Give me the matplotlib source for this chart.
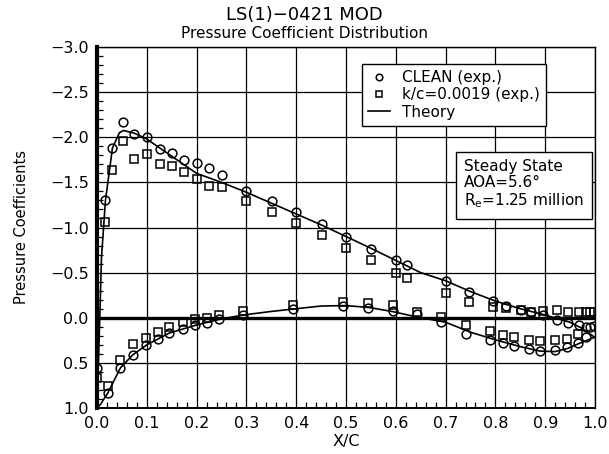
import matplotlib
matplotlib.use('Agg')
import matplotlib.pyplot as plt
from matplotlib.ticker import MultipleLocator, FuncFormatter

# CLEAN (exp.) - upper / lower surface
clean_up_x = [0.017, 0.031, 0.052, 0.075, 0.10, 0.127, 0.151, 0.175, 0.20, 0.225, 0.25, 0.30,
              0.352, 0.40, 0.452, 0.50, 0.55, 0.60, 0.622, 0.70, 0.747, 0.795, 0.822, 0.852,
              0.872, 0.895, 0.923, 0.946, 0.968, 0.982, 0.99, 0.997]
clean_up_cp = [-1.30, -1.88, -2.17, -2.04, -2.00, -1.875, -1.82, -1.75, -1.71, -1.66, -1.585, -1.40,
               -1.294, -1.17, -1.04, -0.89, -0.76, -0.645, -0.59, -0.41, -0.286, -0.19, -0.13, -0.086,
               -0.068, -0.03, 0.026, 0.056, 0.075, 0.10, 0.10, 0.094]
clean_lo_x = [0.0, 0.022, 0.047, 0.072, 0.099, 0.122, 0.145, 0.172, 0.197, 0.22, 0.244, 0.293,
              0.393, 0.494, 0.544, 0.594, 0.643, 0.691, 0.74, 0.789, 0.815, 0.838, 0.868, 0.889,
              0.92, 0.944, 0.966, 0.982]
clean_lo_cp = [0.556, 0.83, 0.556, 0.41, 0.30, 0.23, 0.17, 0.124, 0.079, 0.056, 0.019, -0.034,
               -0.098, -0.125, -0.106, -0.075, -0.04, 0.045, 0.177, 0.244, 0.28, 0.308, 0.346, 0.366,
               0.352, 0.327, 0.276, 0.21]

# k/c=0.0019 (exp.) - upper / lower surface
rough_up_x = [0.017, 0.031, 0.052, 0.075, 0.10, 0.127, 0.151, 0.175, 0.20, 0.225, 0.25, 0.30,
              0.352, 0.40, 0.452, 0.50, 0.55, 0.60, 0.622, 0.70, 0.747, 0.795, 0.822, 0.852,
              0.872, 0.895, 0.923, 0.946, 0.968, 0.982, 0.99, 0.998]
rough_up_cp = [-1.06, -1.64, -1.955, -1.755, -1.81, -1.705, -1.68, -1.61, -1.535, -1.46, -1.445, -1.29,
               -1.17, -1.05, -0.913, -0.774, -0.64, -0.50, -0.445, -0.27, -0.17, -0.124, -0.105, -0.086,
               -0.068, -0.079, -0.086, -0.068, -0.06, -0.06, -0.06, -0.06]
rough_lo_x = [0.0, 0.022, 0.047, 0.072, 0.099, 0.122, 0.145, 0.172, 0.197, 0.22, 0.244, 0.293,
              0.393, 0.494, 0.544, 0.594, 0.643, 0.691, 0.74, 0.789, 0.815, 0.838, 0.868, 0.889,
              0.92, 0.944, 0.966]
rough_lo_cp = [0.67, 0.755, 0.47, 0.29, 0.226, 0.16, 0.098, 0.049, 0.019, 0.0, -0.026, -0.07,
               -0.145, -0.175, -0.164, -0.138, -0.064, -0.01, 0.083, 0.15, 0.195, 0.214, 0.244, 0.263,
               0.252, 0.233, 0.18]

# Theory
theo_up_x = [0.0, 0.004, 0.009, 0.017, 0.031, 0.045, 0.053, 0.075, 0.10, 0.15, 0.20, 0.25, 0.30,
             0.35, 0.40, 0.45, 0.50, 0.55, 0.60, 0.65, 0.70, 0.75, 0.80, 0.85, 0.90, 0.95, 0.975, 1.0]
theo_up_cp = [1.0, 0.3, -0.67, -1.30, -1.88, -2.05, -2.075, -2.045, -1.98, -1.79, -1.60, -1.50, -1.39,
              -1.27, -1.15, -1.03, -0.90, -0.77, -0.635, -0.50, -0.41, -0.29, -0.185, -0.10, -0.03,
              0.05, 0.12, 0.22]
theo_lo_x = [0.0, 0.007, 0.022, 0.047, 0.072, 0.10, 0.145, 0.20, 0.244, 0.293, 0.35, 0.40, 0.45,
             0.50, 0.547, 0.594, 0.641, 0.70, 0.75, 0.80, 0.85, 0.89, 0.92, 0.945, 0.966, 1.0]
theo_lo_cp = [1.0, 0.96, 0.83, 0.556, 0.41, 0.30, 0.17, 0.08, 0.02, -0.03, -0.07, -0.10, -0.13,
              -0.135, -0.113, -0.068, -0.01, 0.05, 0.16, 0.245, 0.32, 0.37, 0.375, 0.34, 0.29, 0.215]

plt.rcParams['font.family'] = ['DejaVu Sans']

fig = plt.figure(figsize=(6.09, 4.54), dpi=100)
ax = fig.add_axes([97 / 609, 1 - 408 / 454, 498 / 609, 361 / 454])

ax.grid(True, color='black', lw=0.9, zorder=1)
ax.axhline(0, color='black', lw=2.4, zorder=2)

mk = dict(mfc='none', mec='black', mew=1.1, ms=6.3, ls='none', zorder=4)
ax.plot(clean_up_x, clean_up_cp, marker='o', label='CLEAN (exp.)', **mk)
ax.plot(clean_lo_x, clean_lo_cp, marker='o', **mk)
ax.plot(rough_up_x, rough_up_cp, marker='s', label='k/c=0.0019 (exp.)', **mk)
ax.plot(rough_lo_x, rough_lo_cp, marker='s', **mk)
ax.plot(theo_up_x, theo_up_cp, color='black', lw=1.2, label='Theory', zorder=3)
ax.plot(theo_lo_x, theo_lo_cp, color='black', lw=1.2, zorder=3)

fmt = FuncFormatter(lambda v, p: ('%.1f' % v).replace('-', '\u2212'))
ax.set_xlim(0, 1)
ax.set_ylim(1.0, -3.0)
ax.xaxis.set_major_locator(MultipleLocator(0.1))
ax.yaxis.set_major_locator(MultipleLocator(0.5))
ax.xaxis.set_minor_locator(MultipleLocator(0.02))
ax.yaxis.set_minor_locator(MultipleLocator(0.1))
ax.xaxis.set_major_formatter(fmt)
ax.yaxis.set_major_formatter(fmt)
ax.tick_params(which='major', length=0, pad=6, labelsize=11.5)
ax.tick_params(which='minor', direction='in', length=4, width=0.9,
               top=False, right=False)

ax.spines['left'].set_linewidth(3)
ax.spines['bottom'].set_linewidth(1.4)
ax.spines['top'].set_linewidth(1.0)
ax.spines['right'].set_linewidth(1.0)

ax.set_xlabel('X/C', fontsize=11.5, labelpad=2)
ax.set_ylabel('Pressure Coefficients', fontsize=10.5, labelpad=15)

fig.text(0.5, 1 - 15 / 454, 'LS(1)\u22120421 MOD', ha='center', va='center', fontsize=13)
fig.text(0.5, 1 - 33 / 454, 'Pressure Coefficient Distribution', ha='center', va='center', fontsize=11)

leg = ax.legend(loc='upper left', bbox_to_anchor=(362 / 609, 1 - 64 / 454),
                bbox_transform=fig.transFigure, fancybox=False, framealpha=1,
                edgecolor='black', fontsize=11, markerscale=0.75, handlelength=1.4,
                borderpad=0.4, labelspacing=0.15, handletextpad=0.8, borderaxespad=0)
leg.get_frame().set_linewidth(1.0)
leg.set_zorder(6)

ax.text(0.737, 0.69, 'Steady State\nAOA=5.6\u00b0\nR$_\\mathrm{e}$=1.25 million',
        transform=ax.transAxes, ha='left', va='top', fontsize=11, linespacing=1.1,
        bbox=dict(boxstyle='square,pad=0.55', fc='white', ec='black', lw=1.0), zorder=6)

fig.savefig('out.png', dpi=100)
